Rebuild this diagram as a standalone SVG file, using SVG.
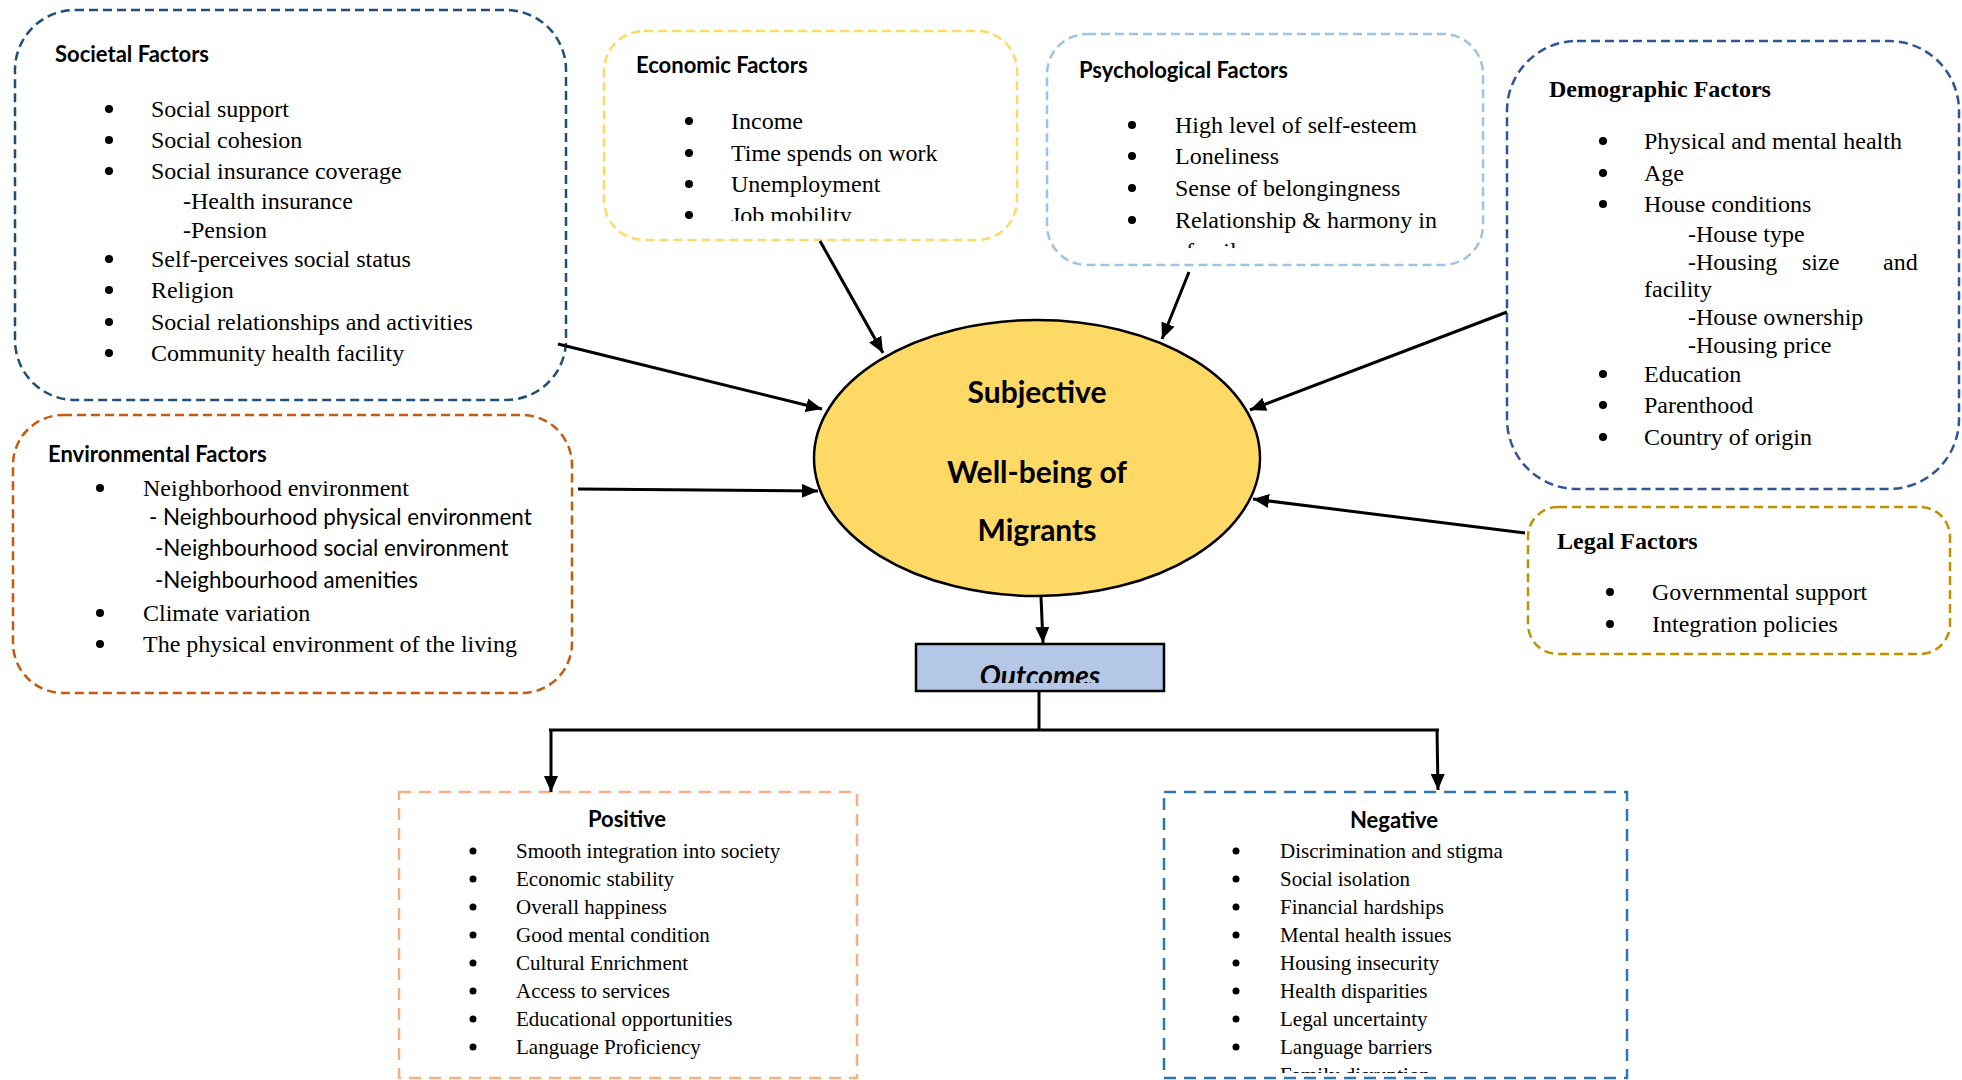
<svg xmlns="http://www.w3.org/2000/svg" width="1962" height="1080" viewBox="0 0 1962 1080">
<style>
.box{fill:#fff;stroke-width:2.5;stroke-dasharray:9 5}
.ttl{font-family:Lato,"Liberation Sans",sans-serif;font-weight:bold;font-size:22px;fill:#000}
.ttlt{font-family:"Liberation Serif",serif;font-weight:bold;font-size:24px;fill:#000}
.t{font-family:"Liberation Serif",serif;font-size:24px;fill:#000}
.s{font-family:Lato,"Liberation Sans",sans-serif;font-size:22.4px;fill:#000}
.o{font-family:"Liberation Serif",serif;font-size:21px;fill:#000}
.b{fill:#000}
.c{stroke:#000;stroke-width:3;fill:none}
.ell{font-family:Lato,"Liberation Sans",sans-serif;font-weight:bold;font-size:30px;fill:#000;text-anchor:middle}
</style>
<defs>
<marker id="ah" markerUnits="userSpaceOnUse" markerWidth="18" markerHeight="14" refX="16" refY="7" orient="auto">
<path d="M0,0 L16,7 L0,14 Z" fill="#000"/>
</marker>
<clipPath id="clipEco"><rect x="604" y="31" width="413" height="190"/></clipPath>
<clipPath id="clipPsy"><rect x="1047" y="34" width="436" height="214"/></clipPath>
<clipPath id="clipOut"><rect x="916" y="644" width="248" height="39"/></clipPath>
<clipPath id="clipNeg"><rect x="1164" y="792" width="463" height="281"/></clipPath>
</defs>

<g id="societal">
<rect class="box" x="15" y="10" width="551" height="390" rx="60" stroke="#1F4E79"/>
<text class="ttl" x="55" y="62">Societal Factors</text>
<circle class="b" cx="109" cy="109" r="4"/><text class="t" x="151" y="117">Social support</text>
<circle class="b" cx="109" cy="140" r="4"/><text class="t" x="151" y="148">Social cohesion</text>
<circle class="b" cx="109" cy="171" r="4"/><text class="t" x="151" y="179">Social insurance coverage</text>
<text class="t" x="183" y="209">-Health insurance</text>
<text class="t" x="183" y="238">-Pension</text>
<circle class="b" cx="109" cy="259" r="4"/><text class="t" x="151" y="267">Self-perceives social status</text>
<circle class="b" cx="109" cy="290" r="4"/><text class="t" x="151" y="298">Religion</text>
<circle class="b" cx="109" cy="322" r="4"/><text class="t" x="151" y="330">Social relationships and activities</text>
<circle class="b" cx="109" cy="353" r="4"/><text class="t" x="151" y="361">Community health facility</text>
</g>

<g id="economic">
<rect class="box" x="604" y="31" width="413" height="209" rx="40" stroke="#FFD966"/>
<text class="ttl" x="636" y="73">Economic Factors</text>
<circle class="b" cx="689" cy="121" r="4"/><text class="t" x="731" y="129">Income</text>
<circle class="b" cx="689" cy="153" r="4"/><text class="t" x="731" y="161">Time spends on work</text>
<circle class="b" cx="689" cy="184" r="4"/><text class="t" x="731" y="192">Unemployment</text>
<g clip-path="url(#clipEco)">
<circle class="b" cx="689" cy="215" r="4"/><text class="t" x="731" y="223">Job mobility</text>
</g>
</g>

<g id="psychological">
<rect class="box" x="1047" y="34" width="436" height="231" rx="40" stroke="#9DC3E6"/>
<text class="ttl" x="1079" y="78">Psychological Factors</text>
<circle class="b" cx="1132" cy="125" r="4"/><text class="t" x="1175" y="133">High level of self-esteem</text>
<circle class="b" cx="1132" cy="156" r="4"/><text class="t" x="1175" y="164">Loneliness</text>
<circle class="b" cx="1132" cy="188" r="4"/><text class="t" x="1175" y="196">Sense of belongingness</text>
<circle class="b" cx="1132" cy="220" r="4"/><text class="t" x="1175" y="228">Relationship &amp; harmony in</text>
<g clip-path="url(#clipPsy)"><text class="t" x="1186" y="259">family</text></g>
</g>

<g id="demographic">
<rect class="box" x="1507" y="41" width="452" height="448" rx="70" stroke="#2F5597"/>
<text class="ttlt" x="1549" y="97">Demographic Factors</text>
<circle class="b" cx="1603" cy="141" r="4"/><text class="t" x="1644" y="149">Physical and mental health</text>
<circle class="b" cx="1603" cy="173" r="4"/><text class="t" x="1644" y="181">Age</text>
<circle class="b" cx="1603" cy="204" r="4"/><text class="t" x="1644" y="212">House conditions</text>
<text class="t" x="1688" y="242">-House type</text>
<text class="t" x="1688" y="270">-Housing</text><text class="t" x="1802" y="270">size</text><text class="t" x="1883" y="270">and</text>
<text class="t" x="1644" y="297">facility</text>
<text class="t" x="1688" y="325">-House ownership</text>
<text class="t" x="1688" y="353">-Housing price</text>
<circle class="b" cx="1603" cy="374" r="4"/><text class="t" x="1644" y="382">Education</text>
<circle class="b" cx="1603" cy="405" r="4"/><text class="t" x="1644" y="413">Parenthood</text>
<circle class="b" cx="1603" cy="437" r="4"/><text class="t" x="1644" y="445">Country of origin</text>
</g>

<g id="environmental">
<rect class="box" x="13" y="415" width="559" height="278" rx="50" stroke="#C55A11"/>
<text class="ttl" x="48" y="462">Environmental Factors</text>
<circle class="b" cx="100" cy="488" r="4"/><text class="t" x="143" y="496">Neighborhood environment</text>
<text class="s" x="149" y="525">- Neighbourhood physical environment</text>
<text class="s" x="155" y="556">-Neighbourhood social environment</text>
<text class="s" x="155" y="588">-Neighbourhood amenities</text>
<circle class="b" cx="100" cy="613" r="4"/><text class="t" x="143" y="621">Climate variation</text>
<circle class="b" cx="100" cy="644" r="4"/><text class="t" x="143" y="652">The physical environment of the living</text>
</g>

<g id="legal">
<rect class="box" x="1528" y="507" width="422" height="147" rx="30" stroke="#BF9000"/>
<text class="ttlt" x="1557" y="549">Legal Factors</text>
<circle class="b" cx="1610" cy="592" r="4"/><text class="t" x="1652" y="600">Governmental support</text>
<circle class="b" cx="1610" cy="624" r="4"/><text class="t" x="1652" y="632">Integration policies</text>
</g>

<g id="wellbeing">
<ellipse cx="1037" cy="458" rx="223" ry="138" fill="#FFD966" stroke="#000" stroke-width="2.5"/>
<text class="ell" x="1037" y="403">Subjective</text>
<text class="ell" x="1037" y="483">Well-being of</text>
<text class="ell" x="1037" y="541">Migrants</text>
</g>

<g id="outcomes">
<rect x="916" y="644" width="248" height="47" fill="#B4C7E7" stroke="#000" stroke-width="2.5"/>
<g clip-path="url(#clipOut)">
<text x="1040" y="686" text-anchor="middle" font-family="Lato,'Liberation Sans',sans-serif" font-weight="bold" font-style="italic" font-size="28" fill="#000">Outcomes</text>
</g>
</g>

<g id="positive">
<rect x="399" y="792" width="458" height="286" fill="#fff" stroke="#F4B183" stroke-width="2.5" stroke-dasharray="12 8"/>
<text class="ttl" x="627" y="827" text-anchor="middle">Positive</text>
<circle class="b" cx="473" cy="851" r="3.5"/><text class="o" x="516" y="858">Smooth integration into society</text>
<circle class="b" cx="473" cy="879" r="3.5"/><text class="o" x="516" y="886">Economic stability</text>
<circle class="b" cx="473" cy="907" r="3.5"/><text class="o" x="516" y="914">Overall happiness</text>
<circle class="b" cx="473" cy="935" r="3.5"/><text class="o" x="516" y="942">Good mental condition</text>
<circle class="b" cx="473" cy="963" r="3.5"/><text class="o" x="516" y="970">Cultural Enrichment</text>
<circle class="b" cx="473" cy="991" r="3.5"/><text class="o" x="516" y="998">Access to services</text>
<circle class="b" cx="473" cy="1019" r="3.5"/><text class="o" x="516" y="1026">Educational opportunities</text>
<circle class="b" cx="473" cy="1047" r="3.5"/><text class="o" x="516" y="1054">Language Proficiency</text>
</g>

<g id="negative">
<rect x="1164" y="792" width="463" height="286" fill="#fff" stroke="#2E75B6" stroke-width="2.5" stroke-dasharray="12 8"/>
<text class="ttl" x="1394" y="828" text-anchor="middle">Negative</text>
<circle class="b" cx="1236" cy="851" r="3.5"/><text class="o" x="1280" y="858">Discrimination and stigma</text>
<circle class="b" cx="1236" cy="879" r="3.5"/><text class="o" x="1280" y="886">Social isolation</text>
<circle class="b" cx="1236" cy="907" r="3.5"/><text class="o" x="1280" y="914">Financial hardships</text>
<circle class="b" cx="1236" cy="935" r="3.5"/><text class="o" x="1280" y="942">Mental health issues</text>
<circle class="b" cx="1236" cy="963" r="3.5"/><text class="o" x="1280" y="970">Housing insecurity</text>
<circle class="b" cx="1236" cy="991" r="3.5"/><text class="o" x="1280" y="998">Health disparities</text>
<circle class="b" cx="1236" cy="1019" r="3.5"/><text class="o" x="1280" y="1026">Legal uncertainty</text>
<circle class="b" cx="1236" cy="1047" r="3.5"/><text class="o" x="1280" y="1054">Language barriers</text>
<g clip-path="url(#clipNeg)"><text class="o" x="1280" y="1082">Family disruption</text></g>
</g>

<g id="connectors">
<line class="c" x1="558" y1="344" x2="822" y2="409" marker-end="url(#ah)"/>
<line class="c" x1="578" y1="489" x2="818" y2="491" marker-end="url(#ah)"/>
<line class="c" x1="820" y1="241" x2="883" y2="353" marker-end="url(#ah)"/>
<line class="c" x1="1189" y1="272" x2="1162" y2="339" marker-end="url(#ah)"/>
<line class="c" x1="1507" y1="312" x2="1250" y2="410" marker-end="url(#ah)"/>
<line class="c" x1="1525" y1="533" x2="1253" y2="499" marker-end="url(#ah)"/>
<line class="c" x1="1041" y1="597" x2="1043" y2="643" marker-end="url(#ah)"/>
<line class="c" x1="1039" y1="691" x2="1039" y2="730"/>
<line class="c" x1="549" y1="730" x2="1439" y2="730"/>
<line class="c" x1="551" y1="729" x2="551" y2="792" marker-end="url(#ah)"/>
<line class="c" x1="1437" y1="729" x2="1438" y2="790" marker-end="url(#ah)"/>
</g>
</svg>
